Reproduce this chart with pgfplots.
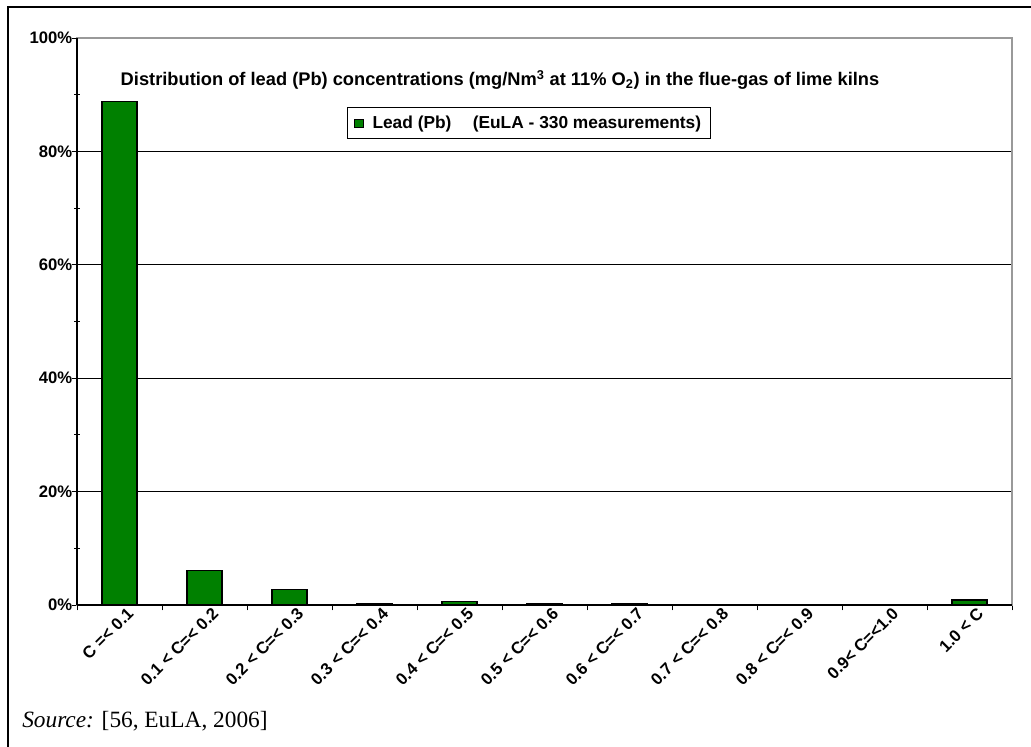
\documentclass[border=0pt]{standalone}
\usepackage{pgfplots}
\pgfplotsset{compat=1.18}
\usepackage{fontspec}
\setmainfont{Liberation Sans}
\newfontfamily\seriffont{Liberation Serif}
\definecolor{barGreen}{RGB}{0,128,0}
\begin{document}
\begin{tikzpicture}
\useasboundingbox (0pt,0pt) rectangle (773.25pt,559.5pt);
% outer frame (left and top edges visible)
\draw[line width=2.2pt] (6pt,-5pt) -- (6pt,554.25pt) -- (780pt,554.25pt);
\begin{axis}[
  at={(57.75pt,105.75pt)}, anchor=south west,
  scale only axis,
  width=701.25pt, height=425.25pt,
  xmin=-0.5, xmax=10.5,
  ymin=0, ymax=100,
  ybar, bar width=26.25pt,
  axis line style={gray!80, line width=1pt},
  tick pos=left,
  xtick=data,
  xticklabels={{C =< 0.1},{0.1 < C=< 0.2},{0.2 < C=< 0.3},{0.3 < C=< 0.4},{0.4 < C=< 0.5},{0.5 < C=< 0.6},{0.6 < C=< 0.7},{0.7 < C=< 0.8},{0.8 < C=< 0.9},{0.9< C=<1.0},{1.0 < C}},
  x tick label style={rotate=45, anchor=east, font=\fontsize{12.5}{14}\selectfont\bfseries, xshift=9pt, yshift=-6pt},
  major x tick style={draw=none},
  minor xtick={-0.5,0.5,...,10.5},
  minor x tick style={black, line width=0.6pt},
  ytick={0,20,40,60,80,100},
  minor ytick={10,30,50,70,90},
  yticklabel={\pgfmathprintnumber{\tick}\%},
  y tick label style={font=\fontsize{12.5}{14}\selectfont\bfseries, xshift=4pt},
  /pgf/number format/assume math mode=true,
  tick align=outside,
  major tick length=4pt,
  minor tick length=4pt,
  major y tick style={black, line width=0.6pt},
  minor y tick style={black, line width=0.6pt, xshift=2pt},
  ymajorgrids,
  major grid style={black, line width=0.6pt},
  legend style={at={(0.4834,0.850)}, anchor=center, draw=black, line width=0.6pt,
    font=\fontsize{13}{15}\selectfont\bfseries, inner xsep=5pt, inner ysep=4pt},
  legend image code/.code={\draw[fill=barGreen, draw=black, line width=0.5pt] (0.05cm,-0.11cm) rectangle (0.27cm,0.11cm);},
  clip=false,
]
\addplot[fill=barGreen, draw=black, line width=1pt] coordinates {
  (0,88.79) (1,6.06) (2,2.73) (3,0.30) (4,0.61) (5,0.30) (6,0.30) (7,0) (8,0) (9,0) (10,0.91)
};
\addlegendentry{\hspace{5pt}Lead (Pb)\hspace{16pt}(EuLA - 330 measurements)}
\draw[black, line width=0.8pt] (rel axis cs:0,0) -- (rel axis cs:0,1);
\draw[black, line width=0.8pt] (rel axis cs:0,0) -- (rel axis cs:1,0);
\node[font=\fontsize{13.7}{16}\selectfont\bfseries] at (rel axis cs:0.4524,0.926)
  {Distribution of lead (Pb) concentrations (mg/Nm\textsuperscript{3} at 11\% O\textsubscript{2}) in the flue-gas of lime kilns};
\end{axis}
\node[anchor=base west, font=\seriffont\fontsize{17.5}{20}\selectfont, inner sep=0pt] at (16.5pt,14pt) {\textit{Source:} [56, EuLA, 2006]};
\end{tikzpicture}
\end{document}
